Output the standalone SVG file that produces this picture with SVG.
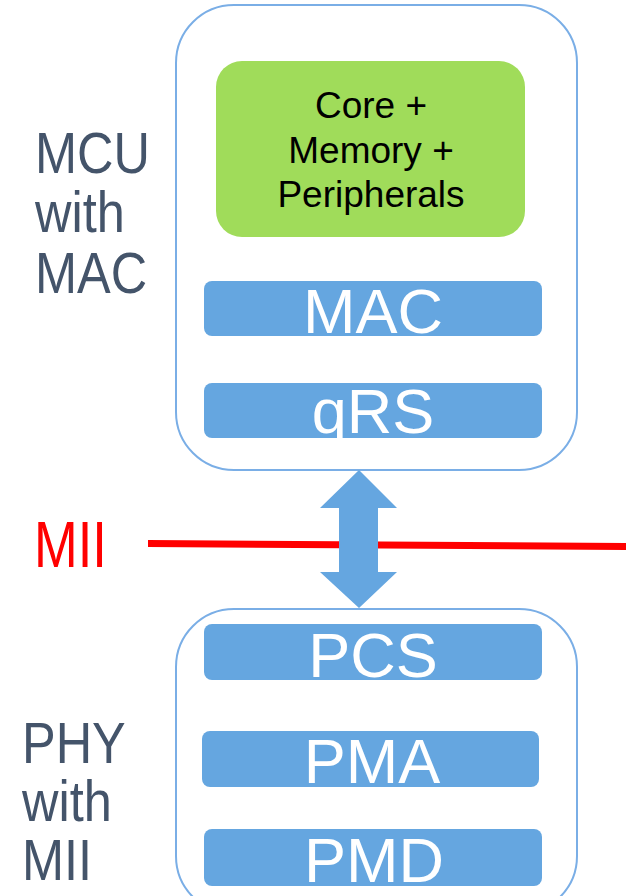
<svg xmlns="http://www.w3.org/2000/svg" width="626" height="896" viewBox="0 0 626 896">
<style>
.box{fill:#ffffff;stroke:#7aaee6;stroke-width:2}
.bar{fill:#65a6e0}
.bartext{font-family:"Liberation Sans",Arial,sans-serif;font-size:63px;fill:#ffffff;text-anchor:middle}
.core{font-family:"Liberation Sans",Arial,sans-serif;font-size:37px;fill:#000000;text-anchor:middle}
.side{font-family:"Liberation Sans",Arial,sans-serif;font-size:58px;fill:#44546a}
</style>
<rect width="626" height="896" fill="#ffffff"/>
<g id="mcu">
<rect class="box" x="176" y="5" width="401" height="465" rx="58" ry="58"/>
<g transform="translate(35,0) scale(0.87,1)">
<text class="side" x="0" y="173">MCU</text>
<text class="side" x="0" y="232">with</text>
<text class="side" x="0" y="293">MAC</text>
</g>
</g>
<g id="core">
<rect x="216" y="61" width="309" height="176" rx="26" ry="26" fill="#a0dc5a"/>
<text class="core" x="371" y="118">Core +</text>
<text class="core" x="371" y="163">Memory +</text>
<text class="core" x="371" y="207">Peripherals</text>
</g>
<g id="mac">
<rect class="bar" x="204" y="281" width="338" height="55" rx="8" ry="8"/>
<text class="bartext" x="373" y="333">MAC</text>
</g>
<g id="qrs">
<rect class="bar" x="204" y="383" width="338" height="55" rx="8" ry="8"/>
<text class="bartext" x="373" y="433">qRS</text>
</g>
<g id="mii">
<g transform="translate(34,0) scale(0.82,1)">
<text x="0" y="567" font-family="'Liberation Sans',Arial,sans-serif" font-size="64" fill="#ff0000">MII</text>
</g>
</g>
<g id="connectors">
<line x1="148" y1="543.5" x2="626" y2="546.5" stroke="#ff0000" stroke-width="7"/>
<polygon points="359,470 397,508 378,508 378,572 397,572 359,608 320,572 339,572 339,508 320,508" fill="#65a6e0"/>
</g>
<g id="phy">
<rect class="box" x="176" y="609" width="401" height="305" rx="58" ry="58"/>
<g transform="translate(22,0) scale(0.87,1)">
<text class="side" x="0" y="763">PHY</text>
<text class="side" x="0" y="821">with</text>
<text class="side" x="0" y="880">MII</text>
</g>
</g>
<g id="pcs">
<rect class="bar" x="204" y="624" width="338" height="56" rx="8" ry="8"/>
<text class="bartext" x="373" y="677">PCS</text>
</g>
<g id="pma">
<rect class="bar" x="202" y="731" width="337" height="56" rx="8" ry="8"/>
<text class="bartext" x="372" y="783">PMA</text>
</g>
<g id="pmd">
<rect class="bar" x="204" y="829" width="338" height="57" rx="8" ry="8"/>
<text class="bartext" x="374" y="882">PMD</text>
</g>
</svg>
